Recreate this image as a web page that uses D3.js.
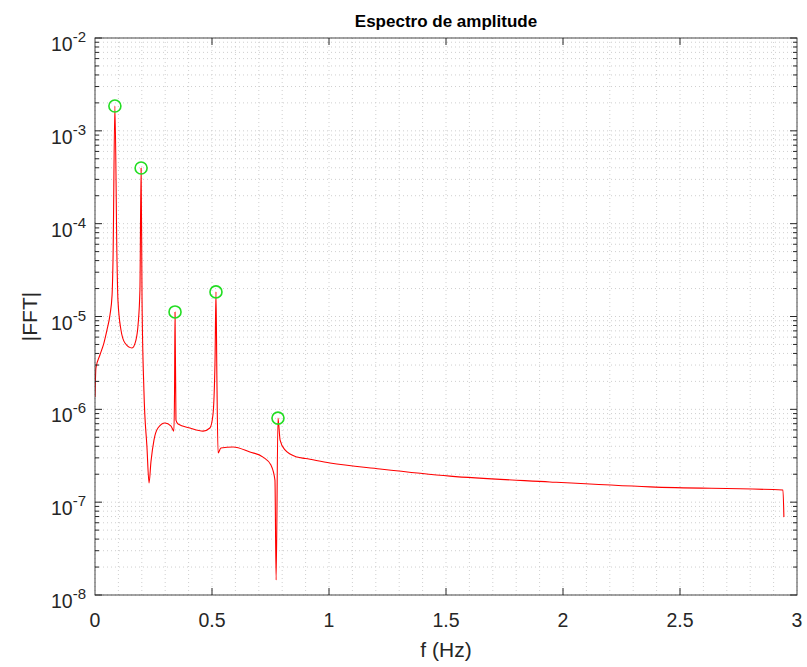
<!DOCTYPE html>
<html>
<head>
<meta charset="utf-8">
<script src="https://cdn.jsdelivr.net/npm/d3@7"></script>
<style>
  html, body { margin: 0; padding: 0; background: #fff; }
  svg { display: block; font-family: "Liberation Sans", Arial, Helvetica, sans-serif; }
</style>
</head>
<body>
<svg id="chart" width="807" height="667"></svg>
<script>
// ---- data ----
const freq = [0, 0.004, 0.021, 0.038, 0.051, 0.064, 0.073, 0.077, 0.085, 0.094, 0.098, 0.111, 0.128, 0.158, 0.175, 0.184, 0.192, 0.197, 0.201, 0.209, 0.222, 0.231, 0.239, 0.252, 0.269, 0.299, 0.325, 0.337, 0.340, 0.342, 0.346, 0.355, 0.406, 0.462, 0.491, 0.504, 0.513, 0.517, 0.521, 0.526, 0.538, 0.590, 0.662, 0.718, 0.752, 0.769, 0.774, 0.782, 0.791, 0.812, 0.863, 0.900, 1.004, 1.218, 1.517, 1.944, 2.372, 2.940, 2.944];
const amp = [1.36e-6, 2.79e-6, 3.85e-6, 5.18e-6, 7.15e-6, 1.04e-5, 1.71e-5, 4.06e-5, 1.85e-3, 4.06e-5, 1.51e-5, 7.15e-6, 5.18e-6, 4.58e-6, 5.58e-6, 8.09e-6, 1.93e-5, 3.98e-4, 1.51e-5, 1.61e-6, 3.93e-7, 1.61e-7, 2.71e-7, 4.67e-7, 6.29e-7, 7.13e-7, 6.6e-7, 5.83e-7, 1.61e-6, 1.12e-5, 7.67e-7, 6.95e-7, 6.29e-7, 5.83e-7, 6.29e-7, 8.69e-7, 3.4e-6, 1.84e-5, 2.07e-6, 3.38e-7, 3.83e-7, 3.93e-7, 3.47e-7, 3.06e-7, 2.51e-7, 1.73e-7, 1.45e-8, 8.05e-7, 4.67e-7, 3.65e-7, 3.06e-7, 2.95e-7, 2.64e-7, 2.28e-7, 1.91e-7, 1.65e-7, 1.46e-7, 1.35e-7, 6.9e-8];
const peakFreq = [0.085, 0.197, 0.342, 0.517, 0.782];
const peakAmp = [1.85e-3, 3.98e-4, 1.12e-5, 1.84e-5, 8.05e-7];
const xTicks = [0, 0.5, 1, 1.5, 2, 2.5, 3];
const xTickLabels = ["0", "0.5", "1", "1.5", "2", "2.5", "3"];
const yExponents = [-8, -7, -6, -5, -4, -3, -2];
const titleText = "Espectro de amplitude";
const xLabel = "f (Hz)";
const yLabel = "|FFT|";

// ---- layout ----
const L = 95, R = 797, T = 38, B = 595;
const svg = d3.select("#chart");
const x = d3.scaleLinear().domain([0, 3]).range([L, R]);
const y = d3.scaleLog().domain([1e-8, 1e-2]).range([B, T]);

const axisColor = "#262626";
const gridColor = "#cfcfcf";

// minor/major grid
const xMinor = d3.range(0, 3.0001, 0.1).map(v => +v.toFixed(2));
const yMinor = [];
for (let e = -8; e < -2; e++) for (let m = 2; m <= 9; m++) yMinor.push(m * Math.pow(10, e));
const yMajor = yExponents.map(e => Math.pow(10, e));

const grid = svg.append("g");
grid.selectAll(".gx").data(xMinor).join("line")
  .attr("x1", d => x(d)).attr("x2", d => x(d)).attr("y1", T).attr("y2", B)
  .attr("stroke", gridColor).attr("stroke-width", 1).attr("stroke-dasharray", "1,3");
grid.selectAll(".gy").data(yMinor.concat(yMajor)).join("line")
  .attr("x1", L).attr("x2", R).attr("y1", d => y(d)).attr("y2", d => y(d))
  .attr("stroke", gridColor).attr("stroke-width", 1).attr("stroke-dasharray", "1,3");

// clip
svg.append("clipPath").attr("id", "clip").append("rect")
  .attr("x", L).attr("y", T).attr("width", R - L).attr("height", B - T);

// line
const pts = freq.map((f, i) => [f, amp[i]]);
svg.append("path").datum(pts)
  .attr("clip-path", "url(#clip)")
  .attr("fill", "none").attr("stroke", "#ff0000").attr("stroke-width", 1.1)
  .attr("stroke-linejoin", "round")
  .attr("d", d3.line().curve(d3.curveMonotoneX).x(d => x(d[0])).y(d => y(d[1])));

// peak markers
svg.selectAll(".pk").data(peakFreq.map((f, i) => [f, peakAmp[i]])).join("circle")
  .attr("cx", d => x(d[0])).attr("cy", d => y(d[1])).attr("r", 6)
  .attr("fill", "none").attr("stroke", "#22dd22").attr("stroke-width", 1.6);

// axes box
const ax = svg.append("g");
ax.append("rect").attr("x", L).attr("y", T).attr("width", R - L).attr("height", B - T)
  .attr("fill", "none").attr("stroke", axisColor).attr("stroke-width", 1).attr("opacity", 0.85);

// x ticks (bottom & top, inward)
const xt = xTicks.slice(1, -1);
ax.selectAll(".xtb").data(xt).join("line")
  .attr("x1", d => x(d)).attr("x2", d => x(d)).attr("y1", B).attr("y2", B - 7)
  .attr("stroke", axisColor);
ax.selectAll(".xtt").data(xt).join("line")
  .attr("x1", d => x(d)).attr("x2", d => x(d)).attr("y1", T).attr("y2", T + 7)
  .attr("stroke", axisColor);

// y ticks (left & right, inward), major and minor
ax.selectAll(".ytl").data(yMajor).join("line")
  .attr("x1", L).attr("x2", L + 7).attr("y1", d => y(d)).attr("y2", d => y(d)).attr("stroke", axisColor);
ax.selectAll(".ytr").data(yMajor).join("line")
  .attr("x1", R).attr("x2", R - 7).attr("y1", d => y(d)).attr("y2", d => y(d)).attr("stroke", axisColor);
ax.selectAll(".ymtl").data(yMinor).join("line")
  .attr("x1", L).attr("x2", L + 4).attr("y1", d => y(d)).attr("y2", d => y(d)).attr("stroke", axisColor);
ax.selectAll(".ymtr").data(yMinor).join("line")
  .attr("x1", R).attr("x2", R - 4).attr("y1", d => y(d)).attr("y2", d => y(d)).attr("stroke", axisColor);

// x tick labels
ax.selectAll(".xl").data(xTicks).join("text")
  .attr("x", d => x(d)).attr("y", B + 32).attr("text-anchor", "middle")
  .attr("font-size", 19.5).attr("fill", axisColor)
  .text((d, i) => xTickLabels[i]);

// y tick labels 10^e
const yl = ax.selectAll(".yl").data(yExponents).join("text")
  .attr("x", L - 9).attr("y", e => y(Math.pow(10, e)) + 13).attr("text-anchor", "end")
  .attr("font-size", 19.5).attr("fill", axisColor);
yl.append("tspan").text("10");
yl.append("tspan").attr("dy", -9).attr("font-size", 15).text(e => "-" + Math.abs(e));

// title & labels
svg.append("text").attr("x", (L + R) / 2).attr("y", 27).attr("text-anchor", "middle")
  .attr("font-size", 17).attr("font-weight", "bold").attr("fill", "#000").text(titleText);
svg.append("text").attr("x", (L + R) / 2).attr("y", 657).attr("text-anchor", "middle")
  .attr("font-size", 21).attr("fill", axisColor).text(xLabel);
svg.append("text").attr("transform", `translate(37,${(T + B) / 2}) rotate(-90)`)
  .attr("text-anchor", "middle").attr("font-size", 21).attr("fill", axisColor).text(yLabel);
</script>
</body>
</html>
